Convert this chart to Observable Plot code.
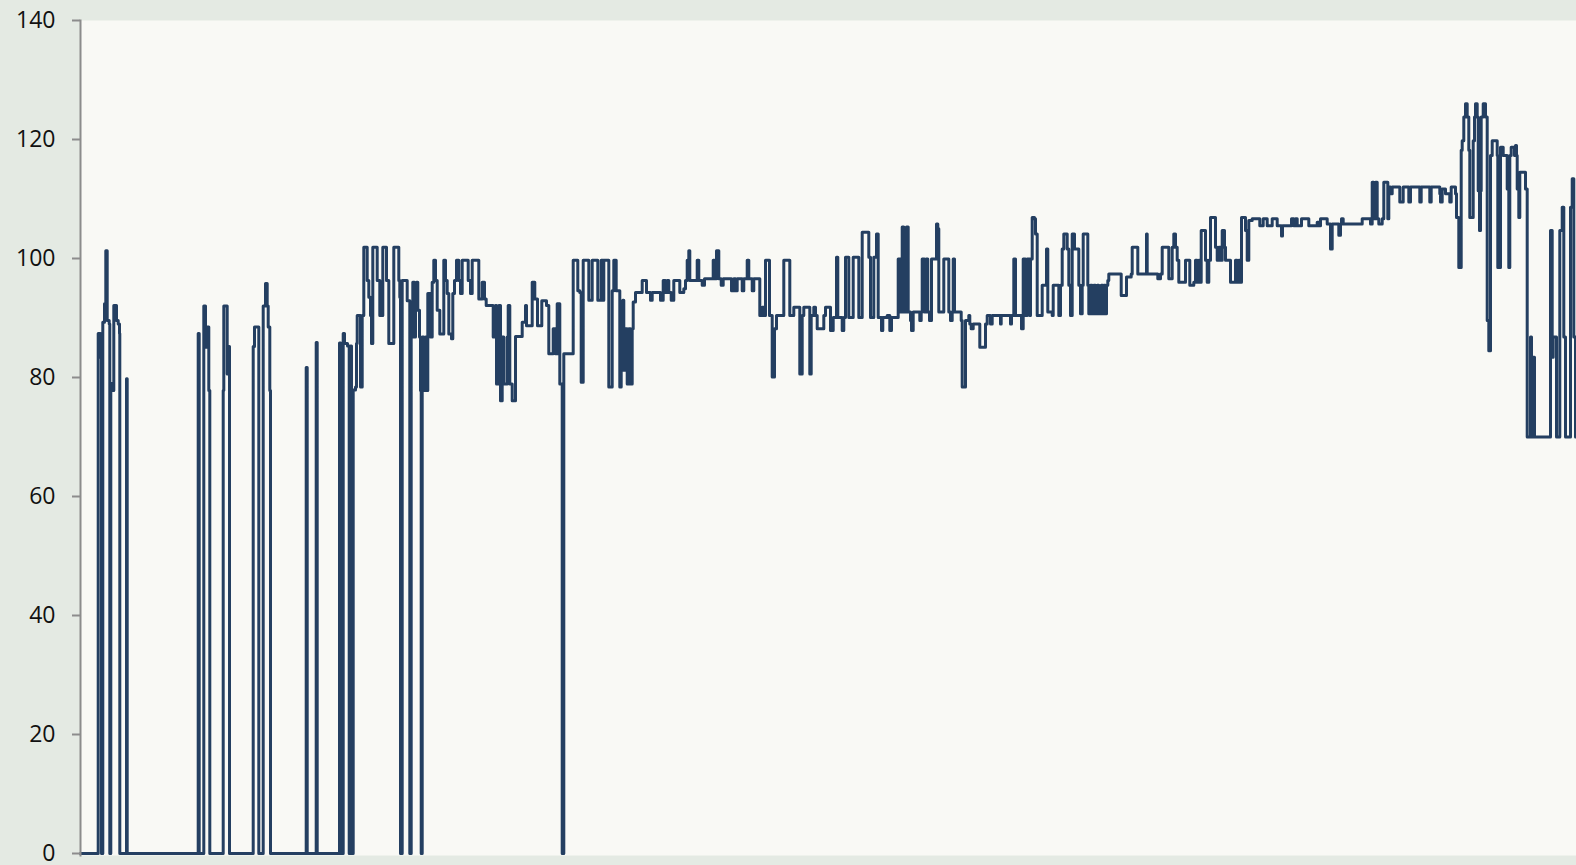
<!DOCTYPE html>
<html><head><meta charset="utf-8">
<script src="https://cdn.jsdelivr.net/npm/d3@7"></script>
<script src="https://cdn.jsdelivr.net/npm/@observablehq/plot@0.6"></script>
<style>html,body{margin:0;padding:0;background:#e4eae3;overflow:hidden}</style>
</head><body><div id="chart"></div>
<script>
// time index (sample position) and reading value
const times = [
0,17.7,20,21,22.3,24,25.3,26.7,28.7,29.3,30.3,31.7,33.3,36,37.7,39,39.3,46,46.7,
117.7,118.7,123.3,125,126.7,128.3,129.3,142.7,143.3,146.7,148.3,149,172.7,174,178.3,182.7,185,186.7,187.7,189.3,190,225.7,226.7,235.7,236.7,
259,260.3,262.7,264,267,268.7,270,271,272.7,275,276,276.7,280,281.7,283.3,286.7,288.3,290,291,292.3,296.7,299.3,302.3,306,308.3,313.3,318.3,319.3,320,321.7,326.7,329.3,330.7,332.3,334,335,336,337.3,339,340,340.7,341.7,343.3,345,346.7,347.3,350,351.7,353.3,355,356.7,359.3,363.3,365,366.7,368.3,371,372.3,374,376,378.3,380,381.7,387.7,390,391.7,398.3,401.7,404,405.7,412.7,415,416,418.3,420,421.7,423.3,426.7,427.7,429.3,431.7,435,441.7,445,446,451.7,454.3,457,461.3,466,468.3,472.7,475,476.7,479.3,481.7,483.3,492.7,497.3,499.3,500.7,
502.7,508.3,511.7,517.3,520.7,522.7,523.3,528.3,531.7,533.3,535.7,539.3,540.7,542.3,543.3,545,546.7,548.3,550,551.7,552.7,555,561.7,566,570,571.7,580,582.7,585,586.7,588.3,590.7,593.3,599.3,603.3,605,606.7,608.3,609.3,616.7,618.3,621.7,624,632.7,634,636,638.3,640.7,642.7,651,653.3,655,656.7,661.7,663.3,666.7,668.3,671.7,673.3,679.3,681.7,683.3,685,689,691.7,694,696,703.3,709.3,713.3,719.3,721.7,723.3,729.3,730.7,733.3,735,736.7,743.3,745,
750,752.7,756,757.3,761.7,763.3,765,768.3,772.7,778.3,781.7,788.3,790,793.3,796,797.7,801,802.3,806.7,809.3,811,817.7,820,821.7,823.3,826,827.7,830,831,832.7,839.3,840.7,841.7,844,845.7,847.3,849,851,856,857.3,858.3,863.3,868.3,870,871.7,872.7,874,880.7,881.7,885,888.3,889.3,890.7,892.7,899.3,905,906.7,910,911.7,920,920.7,930,931,933.3,935,941,942.7,945,946.7,949.3,950,951.7,954,955,956.7,961.7,966,967.3,971.7,972.7,978.3,980,981.7,983.3,986.7,988.3,990,991.7,994,998.3,
1000,1001.7,1002.7,1007.3,1008.3,1010,1011.7,1013.3,1015,1016.7,1018.3,1020.7,1022.3,1023.3,1025,1026,1027.3,1028.3,1040.7,1046,1050.7,1051.7,1057.3,1066,1066.7,1077.3,1080,1081.7,1088.3,1091.7,1093.3,1095,1096.7,1098.3,1105,1109.3,1113.3,1115,1116.7,1118.3,1119.3,1120.7,1125,1126.7,1128.3,1130,1135,1136.7,1138.3,1140,1141.7,1144,1145,1150,1155,1156.7,1158.3,1160,1161,1165,1166.7,1168.3,1171.7,1179.3,1182.7,1186.7,1191.7,1196.7,1201,1202,1211,1213.3,1215,1216.7,1221,1228.3,1236.7,1238.3,1240,1246.7,
1250,1251.7,1258.3,1260,1261,1262.7,1281.7,1290,1291.7,1293.3,1295,1296.7,1298.3,1301.7,1303.3,1307.3,1308.3,1310,1311.7,1319.3,1322.7,1328.3,1330,1339.3,1340.7,1349.3,1350.7,1359.3,1360,1361.7,1365,1369.3,1370.7,1375,1376,1378.3,1380.7,1381.7,1383.3,1385,1386.7,1388.3,1389.3,1392.7,1394,1395,1396.7,1397.7,1399,1400,1400.7,1402.7,1405,1406.7,1408.3,1410,1411.7,1416.7,1417.3,1420,1422.7,1426.7,1428.3,1429.3,1430.7,1434,1435,1436,1436.7,1438.3,1439.3,1445,1446.7,1450,1451,1452.7,1454,1470,1471.7,1472.7,1476,1479.3,1481.7,1483.3,1485,1490,1491.7,1493.3,1495,1496
];
const values = [
0,87.4,83.4,0,89.3,92.4,101.3,89.6,89,0,79,77.8,92.1,89.6,89,87.4,0,79.8,0,
87.4,0,92,85.1,88.5,77.8,0,77.8,92,80.6,85.2,0,85.2,88.5,0,92,95.8,92,88.5,77.8,0,81.7,0,85.9,0,
85.8,0,87.4,85.7,85.3,0,85.3,0,77.9,78.4,85.7,90.4,78.4,90.4,101.9,96.3,93.5,90.4,85.7,101.9,96.3,90.4,101.9,96.3,85.7,101.9,96.3,93.5,0,96.3,92.9,0,86.8,96,86.8,93.8,96,91.3,86.8,77.8,0,86.8,77.8,86.8,77.8,94.1,86.8,96,99.7,96.3,91.3,87.3,99.7,96.3,94.1,87.3,86.5,94.1,96.3,99.7,96.3,94.1,99.7,96.3,94.1,99.7,93.2,96,93.2,92.1,86.8,92.1,78.9,92.1,76.1,86.8,78.9,86.8,92.1,78.9,76.1,86.9,89.3,92.1,88.7,96,93.2,88.7,92.9,92.1,84,88.2,84,92.4,78.9,0,84,99.7,94.6,94.3,79.2,
99.7,93,99.7,93,99.7,93,99.7,78.4,94.6,99.7,94.6,78.4,88.2,93,81.2,88.2,78.9,88.2,78.9,88.2,92.7,94.3,96.3,94.3,93,94.3,93,96.3,94.3,96.3,94.3,93,96.3,94.3,94.9,96.3,99.7,101.3,96.3,99.7,96.3,95.5,96.6,99.7,96.6,101.3,96.6,95.5,96.6,94.6,96.6,94.6,96.6,94.6,96.6,99.7,96.6,94.6,96.6,90.4,91.8,90.4,99.7,90.4,80.1,88.2,90.4,99.7,90.4,91.8,80.6,90.4,91.8,80.6,90.4,91.8,90.4,88.2,90.4,91.8,
87.9,90.1,100.2,90.1,87.9,90.1,100.2,90.1,100.2,90.1,104.4,100.2,90.1,100.2,104.1,90.1,87.9,90.1,90.4,87.9,90.1,99.9,91,105.3,91,105.3,91,89.6,87.9,91,89.6,91,99.9,91,99.9,91,89.6,99.9,105.8,105,91,99.9,91,89.6,91,99.9,91,89.6,78.4,89.6,90.4,89,88.2,89,85.1,89,90.4,89,90.4,89,90.4,89,90.4,99.9,90.4,88.2,99.9,90.4,99.9,90.4,99.9,106.9,106.7,104.1,90.4,95.5,101.6,91,90.4,95.5,90.4,95.5,101.6,104.1,101.6,95.5,90.4,104.1,101.6,95.5,
90.7,95.5,104.1,95.5,90.7,95.5,90.7,95.5,90.7,95.5,90.7,95.5,90.7,95.5,90.7,95.5,96.3,97.4,93.8,96.9,97.4,101.9,97.4,104.1,97.4,96.6,97.4,101.9,96.6,101.9,104.1,101.9,99.7,96,99.7,95.5,96,99.7,96,99.7,96,104.7,99.7,96,99.7,106.9,101.9,99.7,101.9,99.7,104.7,101.9,99.7,96,99.7,96,99.7,96,106.9,104.7,99.7,106.4,106.7,105.5,106.7,105.5,106.7,105.5,103.8,105.5,106.7,105.5,106.7,105.5,106.7,105.5,106.1,105.5,106.7,105.8,
101.6,105.8,103.9,105.8,106.7,105.8,106.7,105.8,112.8,106.7,112.8,106.7,105.8,106.7,112.8,106.7,112,110.9,112,109.5,112,109.5,112,109.5,112,109.5,112,110.9,109.5,111.7,110.9,109.5,112,110.9,106.9,98.5,118.2,119.8,123.8,126,123.8,118.2,106.9,119.8,123.8,126,123.8,111.4,104.7,111.4,123.8,126,123.8,89.6,84.5,117.3,119.8,117.3,98.5,118.7,117.3,111.7,98.5,117.3,118.7,117.3,119,117.3,111.7,106.9,114.5,111.7,70,86.8,70,83.4,70,104.7,83.4,86.8,70,104.7,108.6,86.8,70,108.6,113.4,86.8,70,86.8
];
const yTicks = [0, 20, 40, 60, 80, 100, 120, 140];

const data = times.map((t, i) => ({t, v: values[i]}));

const chart = Plot.plot({
  width: 1576,
  height: 865,
  marginLeft: 80,
  marginRight: 0,
  marginTop: 20,
  marginBottom: 10,
  style: {background: "transparent", fontFamily: "'Open Sans', sans-serif", fontSize: "23px", color: "#111", overflow: "visible"},
  x: {domain: [0, 1496], axis: null},
  y: {domain: [0, 140], insetBottom: 2, axis: null},
  marks: [
    Plot.frame({fill: "#f9f9f5", stroke: null}),
    Plot.line(data, {x: "t", y: "v", curve: "step-after", stroke: "#243f61", strokeWidth: 3}),
    Plot.axisY({ticks: yTicks, tickSize: 8, tickPadding: 17, stroke: "#8c8c8c", strokeWidth: 2, fill: "#111", fontSize: 23, label: null}),
    Plot.frame({anchor: "left", stroke: "#8c8c8c", strokeWidth: 2})
  ]
});
document.getElementById("chart").appendChild(chart);
</script>
</body></html>
